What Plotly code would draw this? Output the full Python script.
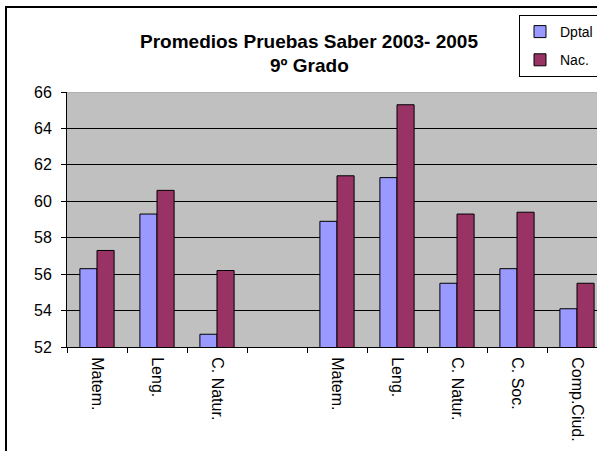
import plotly.graph_objects as go

# Promedios Pruebas Saber, 9º grado: departamento vs. nacional
areas = ["Matem.", "Leng.", "C. Natur.", "", "Matem.", "Leng.", "C. Natur.", "C. Soc.", "Comp.Ciud."]
dptal = [56.3, 59.3, 52.7, None, 58.9, 61.3, 55.5, 56.3, 54.1]
nac = [57.3, 60.6, 56.2, None, 61.4, 65.3, 59.3, 59.4, 55.5]
y_ticks = [52, 54, 56, 58, 60, 62, 64, 66]

# category ids must be unique, labels repeat
cat_ids = [f"c{i}" for i in range(len(areas))]

FONT = "Arial, Liberation Sans, sans-serif"

fig = go.Figure()
fig.add_trace(go.Bar(
    x=cat_ids, y=dptal, name="Dptal", legendgroup="d",
    marker=dict(color="#9999FF", line=dict(color="black", width=1)),
))
fig.add_trace(go.Bar(
    x=cat_ids, y=nac, name="Nac.", legendgroup="n",
    marker=dict(color="#993366", line=dict(color="black", width=1)),
))

fig.update_layout(
    width=597, height=451,
    margin=dict(l=67, r=0, t=92, b=104, autoexpand=False),
    paper_bgcolor="white",
    plot_bgcolor="#C0C0C0",
    font=dict(family=FONT, size=16, color="black"),
    bargap=0.43,
    bargroupgap=0,
    showlegend=True,
    legend=dict(
        x=(519 - 67) / 530, y=(347 - 15) / 255, xanchor="left", yanchor="top",
        bgcolor="white", bordercolor="black", borderwidth=1,
        font=dict(size=14), tracegroupgap=7, entrywidth=85,
    ),
    annotations=[
        dict(text="<b>Promedios Pruebas Saber 2003- 2005</b>", xref="paper", yref="paper",
             x=(309 - 67) / 530, y=(347 - 41) / 255, xanchor="center", yanchor="middle",
             showarrow=False, font=dict(size=19)),
        dict(text="<b>9º Grado</b>", xref="paper", yref="paper",
             x=(309 - 67) / 530, y=(347 - 66) / 255, xanchor="center", yanchor="middle",
             showarrow=False, font=dict(size=19)),
    ],
    shapes=[
        # outer chart frame (right/bottom run off the picture)
        dict(type="rect", xref="paper", yref="paper",
             x0=(6 - 67) / 530, x1=1.2, y0=-0.5, y1=(347 - 7) / 255,
             line=dict(color="black", width=2), layer="above"),
        # light border on top of plot area
        dict(type="line", xref="paper", yref="y", x0=0, x1=1, y0=66, y1=66,
             line=dict(color="#A0A0A0", width=1), layer="above"),
    ],
)

fig.update_xaxes(
    type="category",
    range=[-0.5, -0.5 + (597 - 67) / 60],
    tickvals=cat_ids, ticktext=areas,
    tickangle=90,
    tickson="boundaries",
    ticks="outside", ticklen=5, tickcolor="black",
    ticklabelstandoff=6,
    showline=True, linecolor="black", linewidth=1,
    showgrid=False,
    tickfont=dict(size=16),
)
fig.update_yaxes(
    range=[52, 66],
    tickvals=y_ticks,
    ticks="outside", ticklen=5, tickcolor="black",
    ticklabelstandoff=6,
    showline=True, linecolor="black", linewidth=1,
    showgrid=True, gridcolor="black", gridwidth=1,
    zeroline=False,
    tickfont=dict(size=16),
)

# page body has a default 8px margin; drop it so the figure sits at the corner
fig.write_html(
    "out.html",
    config={"displayModeBar": False},
    post_script="document.body.style.margin='0';",
)
